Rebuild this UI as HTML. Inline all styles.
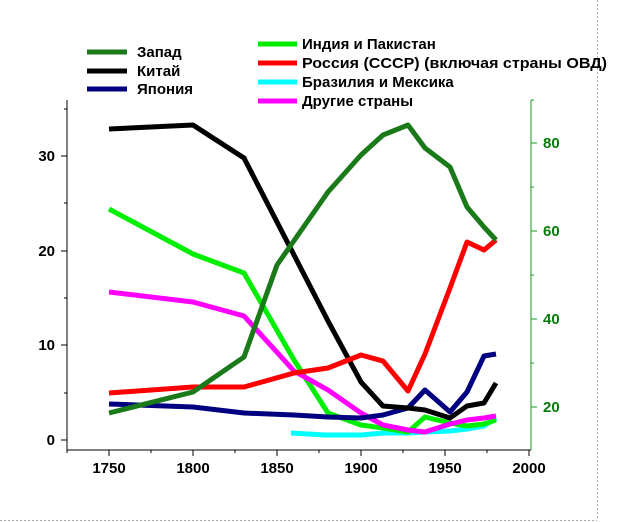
<!DOCTYPE html>
<html><head><meta charset="utf-8"><style>
html,body{margin:0;padding:0;background:#fff}
svg{display:block}
text{font-family:"Liberation Sans",sans-serif;font-weight:bold}
</style></head><body>
<svg width="623" height="522" viewBox="0 0 623 522">
<line x1="597.5" y1="0" x2="597.5" y2="520" stroke="#aaa" stroke-dasharray="2,2"/>
<line x1="0" y1="520.5" x2="597" y2="520.5" stroke="#aaa" stroke-dasharray="2,2"/>
<!-- axes -->
<g stroke="#000" stroke-width="1">
<line x1="67" y1="100" x2="67" y2="450"/>
<line x1="67" y1="450" x2="531" y2="450"/>
<line x1="61" y1="440" x2="67" y2="440"/><line x1="61" y1="345" x2="67" y2="345"/>
<line x1="61" y1="251" x2="67" y2="251"/><line x1="61" y1="156" x2="67" y2="156"/>
<line x1="64" y1="393" x2="67" y2="393"/><line x1="64" y1="298" x2="67" y2="298"/>
<line x1="64" y1="203" x2="67" y2="203"/><line x1="64" y1="109" x2="67" y2="109"/>
<line x1="109" y1="450" x2="109" y2="456"/><line x1="193" y1="450" x2="193" y2="456"/>
<line x1="277" y1="450" x2="277" y2="456"/><line x1="361" y1="450" x2="361" y2="456"/>
<line x1="445" y1="450" x2="445" y2="456"/><line x1="529" y1="450" x2="529" y2="456"/>
<line x1="67" y1="450" x2="67" y2="453"/><line x1="151" y1="450" x2="151" y2="453"/>
<line x1="235" y1="450" x2="235" y2="453"/><line x1="319" y1="450" x2="319" y2="453"/>
<line x1="403" y1="450" x2="403" y2="453"/><line x1="487" y1="450" x2="487" y2="453"/>
</g>
<g stroke="#1a9a1a" stroke-width="1">
<line x1="531" y1="100" x2="531" y2="450"/>
<line x1="531" y1="143" x2="537" y2="143"/><line x1="531" y1="231" x2="537" y2="231"/>
<line x1="531" y1="319" x2="537" y2="319"/><line x1="531" y1="407" x2="537" y2="407"/>
<line x1="531" y1="100" x2="534" y2="100"/><line x1="531" y1="187" x2="534" y2="187"/>
<line x1="531" y1="275" x2="534" y2="275"/><line x1="531" y1="363" x2="534" y2="363"/>
</g>
<g font-size="15" fill="#000" text-anchor="end">
<text x="55" y="445">0</text><text x="55" y="350">10</text>
<text x="55" y="256">20</text><text x="55" y="161">30</text>
</g>
<g font-size="15" fill="#000" text-anchor="middle">
<text x="109" y="473">1750</text><text x="193" y="473">1800</text><text x="277" y="473">1850</text>
<text x="361" y="473">1900</text><text x="445" y="473">1950</text><text x="529" y="473">2000</text>
</g>
<g font-size="15" fill="#0a7a0a">
<text x="543" y="148">80</text><text x="543" y="236">60</text>
<text x="543" y="324">40</text><text x="543" y="412">20</text>
</g>
<!-- series -->
<g fill="none" stroke-width="5" stroke-linejoin="round">
<polyline stroke="#00ffff" points="291,433 325,435 361,435 383,433 408,433 425,432 450,431 467,429 484,426 496,418"/>
<polyline stroke="#00ee00" points="109,209 193,254 244,273 294,360 328,413 361,425 383,428 408,432 425,417 450,423 467,426 484,424 496,420"/>
<polyline stroke="#ff00ff" points="109,292 193,302 244,316 294,371 328,390 361,413 383,425 408,430 425,432 450,424 467,420 484,418 496,416"/>
<polyline stroke="#000080" points="109,404 193,407 244,413 294,415 328,417 361,418 383,415 408,408 425,390 450,412 467,392 484,356 496,354"/>
<polyline stroke="#000" points="109,129 193,125 244,158 328,321 361,382 383,406 408,408 425,410 450,418 467,406 484,403 496,383"/>
<polyline stroke="#ff0000" points="109,393 193,387 244,387 294,373 328,368 361,355 383,361 408,391 425,354 450,288 467,242 484,250 496,240"/>
<polyline stroke="#1a7a1a" points="109,413 193,392 244,357 277,265 328,192 361,155 383,135 408,125 425,148 450,167 467,207 484,227 496,240"/>
</g>
<!-- legend -->
<g stroke-width="5">
<line x1="87" y1="52" x2="127" y2="52" stroke="#1a7a1a"/>
<line x1="87" y1="71" x2="127" y2="71" stroke="#000"/>
<line x1="87" y1="89" x2="127" y2="89" stroke="#000080"/>
<line x1="258" y1="44" x2="297" y2="44" stroke="#00ee00"/>
<line x1="258" y1="63" x2="297" y2="63" stroke="#ff0000"/>
<line x1="258" y1="82" x2="297" y2="82" stroke="#00ffff"/>
<line x1="258" y1="101" x2="297" y2="101" stroke="#ff00ff"/>
</g>
<g font-size="15" fill="#000">
<text x="137" y="57">Запад</text>
<text x="137" y="76">Китай</text>
<text x="137" y="94">Япония</text>
<text x="302" y="49">Индия и Пакистан</text>
<text x="302" y="68" textLength="305" lengthAdjust="spacingAndGlyphs">Россия (СССР) (включая страны ОВД)</text>
<text x="302" y="87">Бразилия и Мексика</text>
<text x="302" y="106">Другие страны</text>
</g>
</svg>
</body></html>
